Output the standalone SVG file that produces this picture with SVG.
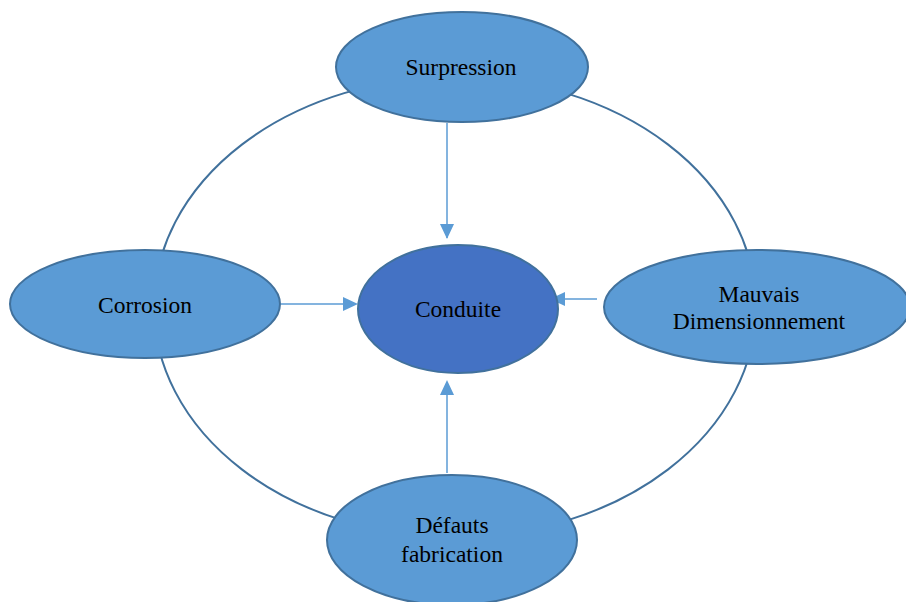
<svg xmlns="http://www.w3.org/2000/svg" width="906" height="602" viewBox="0 0 906 602">
<style>
.ring{fill:none;stroke:#41719C;stroke-width:2}
.node{fill:#5B9BD5;stroke:#41719C;stroke-width:2}
.core{fill:#4472C4;stroke:#41719C;stroke-width:2}
.lbl{font-family:"Liberation Serif","Times New Roman",serif;font-size:23.5px;fill:#000;text-anchor:middle}
.arr{stroke:#5B9BD5;stroke-width:1.5;fill:none;marker-end:url(#ah)}
</style>
<defs>
<marker id="ah" markerWidth="10" markerHeight="8" refX="9" refY="4" orient="auto" markerUnits="userSpaceOnUse" viewBox="0 0 10 8">
<path d="M0,0 L10,4 L0,8 Z" fill="#5B9BD5"/>
</marker>
</defs>
<rect width="906" height="602" fill="#fff"/>
<g id="ring"><ellipse class="ring" cx="455" cy="307" rx="301" ry="230"/></g>
<g id="connectors">
<line class="arr" x1="447" y1="123" x2="447" y2="238" style="marker-end:none"/>
<path d="M440,224 L454,224 L447,239 Z" fill="#5B9BD5"/>
<line x1="281" y1="304" x2="344" y2="304" stroke="#5B9BD5" stroke-width="1.5"/>
<path d="M343,297 L358,304 L343,311 Z" fill="#5B9BD5"/>
<line x1="597" y1="299" x2="564" y2="299" stroke="#5B9BD5" stroke-width="1.5"/>
<path d="M565,292 L550,299 L565,306 Z" fill="#5B9BD5"/>
<line x1="447" y1="473" x2="447" y2="394" stroke="#5B9BD5" stroke-width="1.5"/>
<path d="M440,395 L454,395 L447,380 Z" fill="#5B9BD5"/>
</g>
<g id="surpression">
<ellipse class="node" cx="462" cy="67" rx="126" ry="55"/>
<text class="lbl" x="461" y="75">Surpression</text>
</g>
<g id="corrosion">
<ellipse class="node" cx="145" cy="304" rx="135" ry="54"/>
<text class="lbl" x="145" y="313">Corrosion</text>
</g>
<g id="mauvais">
<ellipse class="node" cx="757" cy="307" rx="153" ry="57"/>
<text class="lbl" x="759" y="302">Mauvais</text>
<text class="lbl" x="759" y="329">Dimensionnement</text>
</g>
<g id="defauts">
<ellipse class="node" cx="452" cy="540" rx="125" ry="65"/>
<text class="lbl" x="452" y="533">Défauts</text>
<text class="lbl" x="452" y="562">fabrication</text>
</g>
<g id="conduite">
<ellipse class="core" cx="458" cy="309" rx="100" ry="64"/>
<text class="lbl" x="458" y="317">Conduite</text>
</g>
</svg>
